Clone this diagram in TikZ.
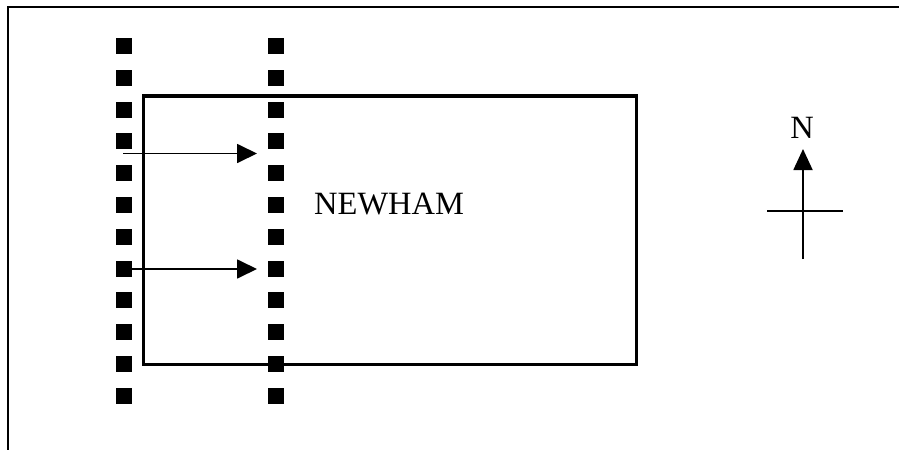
\documentclass[tikz,border=0pt]{standalone}
\usepackage{fontspec}
\setmainfont{Liberation Serif}
\usetikzlibrary{arrows.meta}
\begin{document}
\begin{tikzpicture}[x=1pt,y=-1pt,
  frameline/.style={line width=2pt},
  blockbox/.style={fill=black,minimum size=16pt,inner sep=0pt,outer sep=0pt},
  region/.style={draw,line width=3.2pt},
  flow/.style={line width=1.8pt,-{Triangle[length=20pt,width=19pt]}},
  compass/.style={line width=1.8pt},
  lbl/.style={font=\fontsize{32.5}{38}\selectfont,inner sep=0pt}]
\useasboundingbox (0,0) rectangle (899,450);
% frame
\coordinate (fTR) at (899,7);
\coordinate (fTL) at (8,7);
\coordinate (fBL) at (8,450);
\draw[frameline] (fTR) -- (fTL) -- (fBL);
% region rectangle
\draw[region] (143.5,96) rectangle (636.5,364.5);
% dotted boundary squares
\foreach \k in {0,...,11}{
  \node[blockbox] (L\k) at (124,{46+31.8*\k}) {};
  \node[blockbox] (R\k) at (276,{46+31.8*\k}) {};
}
% arrows
\coordinate (a1s) at (123,153.5);
\coordinate (a1e) at (257,153.5);
\coordinate (a2e) at (257,269);
\draw[flow] (a1s) -- (a1e);
\draw[flow] (L7.east |- a2e) -- (a2e);
% label
\node[lbl,anchor=base west] (newham) at (314,214) {NEWHAM};
% north arrow
\coordinate (nb) at (803,259);
\coordinate (nt) at (803,149);
\coordinate (hw) at (767,211);
\coordinate (he) at (843,211);
\draw[compass,-{Triangle[length=21pt,width=19pt]}] (nb) -- (nt);
\draw[compass] (hw) -- (he);
\node[lbl,anchor=base] (north) at (802,138) {N};
\end{tikzpicture}
\end{document}
